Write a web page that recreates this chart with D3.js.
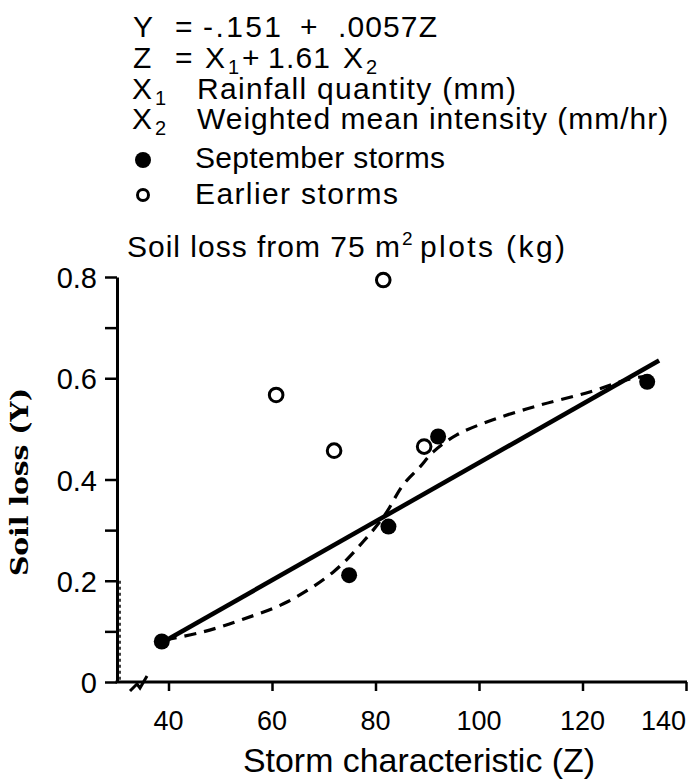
<!DOCTYPE html>
<html>
<head>
<meta charset="utf-8">
<script src="https://cdn.jsdelivr.net/npm/d3@7"></script>
<style>
  html, body { margin: 0; padding: 0; background: #fff; }
  svg { display: block; }
  text { font-family: "Liberation Sans", Arial, Helvetica, sans-serif; fill: #000; }
  text.serif { font-family: "DejaVu Serif", "Liberation Serif", serif; }
</style>
</head>
<body>
<svg id="chart" width="699" height="781"></svg>
<script>
// ---------------- data ----------------
const septemberZ = [38.7, 74.9, 82.5, 92.1, 132.5];
const septemberY = [0.080, 0.211, 0.307, 0.485, 0.593];

const earlierZ = [60.8, 72.0, 81.5, 89.4];
const earlierY = [0.567, 0.457, 0.794, 0.465];

// fitted regression line Y = -.151 + .0057Z (end points as drawn)
const regressionZ = [38.8, 134.8];
const regressionY = [0.078, 0.635];

// hand-drawn dashed curve
const curveZ = [39.3, 46.7, 54.4, 62.9, 71.8, 77.6, 81.8, 85.3, 88.6, 91.1, 95.7, 102.7, 111.8, 121.4, 128.6, 132.1];
const curveY = [0.083, 0.099, 0.124, 0.158, 0.217, 0.277, 0.330, 0.389, 0.425, 0.454, 0.488, 0.518, 0.547, 0.573, 0.597, 0.604];

const xTicks = [40, 60, 80, 100, 120, 140];
const xTickLabels = ["40", "60", "80", "100", "120", "140"];
const yTicks = [0, 0.1, 0.2, 0.3, 0.4, 0.6, 0.7, 0.8];
const yLabelValues = [0, 0.2, 0.4, 0.6, 0.8];
const yTickLabels = ["0", "0.2", "0.4", "0.6", "0.8"];

// ---------------- chart ----------------
const svg = d3.select("#chart");
const x = d3.scaleLinear().domain([40, 140]).range([168.5, 686]);
const y = d3.scaleLinear().domain([0, 0.8]).range([682, 277]);
const axisX0 = 117;

// legend / equations
const leg = svg.append("g").attr("font-size", 30);
function line(yb, parts) {
  parts.forEach(p => {
    const s = leg.append("text").attr("x", p.x).text(p.t);
    if (p.sub) s.attr("font-size", 20).attr("y", yb + 6);
    else s.attr("y", yb);
    if (p.len) s.attr("textLength", p.len).attr("lengthAdjust", "spacing");
    if (p.ls) s.attr("letter-spacing", p.ls);
  });
}
line(37, [{x:133,t:"Y"},{x:175,t:"="},{x:203,t:"-.151",len:78},{x:300,t:"+"},{x:338,t:".0057Z",len:99}]);
line(68, [{x:133,t:"Z"},{x:175,t:"="},{x:205,t:"X"},{x:228,t:"1",sub:true},{x:242,t:"+"},{x:268,t:"1.61",len:62},{x:343,t:"X"},{x:366,t:"2",sub:true}]);
line(99, [{x:132,t:"X"},{x:155,t:"1",sub:true},{x:197,t:"Rainfall quantity (mm)",ls:1.3}]);
line(129, [{x:132,t:"X"},{x:155,t:"2",sub:true},{x:197,t:"Weighted mean intensity (mm/hr)",ls:1.0}]);
line(168, [{x:195,t:"September  storms",len:250}]);
line(204, [{x:195,t:"Earlier  storms",len:203}]);
leg.append("circle").attr("cx", 143).attr("cy", 160).attr("r", 8).attr("fill", "#000");
leg.append("circle").attr("cx", 143).attr("cy", 195).attr("r", 5.5).attr("fill", "none").attr("stroke", "#000").attr("stroke-width", 3);

// title
const title = svg.append("text").attr("y", 257).attr("font-size", 30);
title.append("tspan").attr("x", 127).text("Soil  loss  from 75 m").attr("textLength", 273).attr("lengthAdjust", "spacing");
title.append("tspan").attr("x", 402).attr("dy", -12).attr("font-size", 19).text("2");
title.append("tspan").attr("x", 420).attr("dy", 12).text("plots  (kg)").attr("textLength", 145).attr("lengthAdjust", "spacing");

// y axis
const yAxis = d3.axisLeft(y).tickValues(yTicks).tickSize(12).tickSizeOuter(0).tickFormat("");
const gy = svg.append("g").attr("transform", `translate(${axisX0},0)`).call(yAxis);
gy.select(".domain").attr("stroke-width", 3);
gy.selectAll(".tick line").attr("stroke-width", 2.5);
// faint doubled edge of the scanned axis near the origin
svg.append("line").attr("x1", axisX0 + 3).attr("x2", axisX0 + 3)
  .attr("y1", y(0.2)).attr("y2", y(0)).attr("stroke", "#000")
  .attr("stroke-width", 1.5).attr("stroke-dasharray", "3,3");

svg.append("g").selectAll("text").data(yLabelValues).join("text")
  .attr("x", 97).attr("y", d => y(d) + 11)
  .attr("text-anchor", "end").attr("font-size", 29)
  .text((d, i) => yTickLabels[i]);

// x axis
const xAxis = d3.axisBottom(x).tickValues(xTicks).tickSize(9).tickSizeOuter(0).tickFormat("");
const gx = svg.append("g").attr("transform", `translate(0,${y(0)})`).call(xAxis);
gx.select(".domain").remove();
gx.selectAll(".tick line").attr("stroke-width", 2.5);
svg.append("line").attr("x1", axisX0 - 1.5).attr("x2", x(140) + 1)
  .attr("y1", y(0)).attr("y2", y(0)).attr("stroke", "#000").attr("stroke-width", 3);
// axis break mark
svg.append("path").attr("d", `M130,${y(0)+9} L137,${y(0)+2} L140,${y(0)+6} L147,${y(0)-6}`)
  .attr("fill", "none").attr("stroke", "#000").attr("stroke-width", 3);

svg.append("g").selectAll("text").data(xTicks).join("text")
  .attr("x", d => x(d))
  .attr("y", 730)
  .attr("text-anchor", (d, i) => i === xTicks.length - 1 ? "end" : "middle")
  .attr("font-size", 27)
  .text((d, i) => xTickLabels[i]);

svg.append("text").attr("x", 243).attr("y", 772).attr("font-size", 33)
  .attr("textLength", 352).attr("lengthAdjust", "spacingAndGlyphs")
  .text("Storm characteristic (Z)");

svg.append("text").attr("class", "serif")
  .attr("transform", "translate(28,482) rotate(-90)")
  .attr("text-anchor", "middle")
  .attr("font-weight", "bold").attr("font-size", 24)
  .attr("textLength", 188).attr("lengthAdjust", "spacingAndGlyphs")
  .text("Soil loss (Y)");

// regression line
const regPts = regressionZ.map((z, i) => [x(z), y(regressionY[i])]);
svg.append("path").attr("d", d3.line()(regPts))
  .attr("fill", "none").attr("stroke", "#000").attr("stroke-width", 4.5);

// dashed curve
const curvePts = curveZ.map((z, i) => [x(z), y(curveY[i])]);
svg.append("path").attr("d", d3.line().curve(d3.curveCatmullRom)(curvePts))
  .attr("fill", "none").attr("stroke", "#000").attr("stroke-width", 3.2)
  .attr("stroke-dasharray", "12,8");

// points
svg.append("g").selectAll("circle").data(earlierZ).join("circle")
  .attr("cx", d => x(d)).attr("cy", (d, i) => y(earlierY[i])).attr("r", 6.8)
  .attr("fill", "#fff").attr("stroke", "#000").attr("stroke-width", 3);
svg.append("g").selectAll("circle").data(septemberZ).join("circle")
  .attr("cx", d => x(d)).attr("cy", (d, i) => y(septemberY[i])).attr("r", 8)
  .attr("fill", "#000");
</script>
</body>
</html>
